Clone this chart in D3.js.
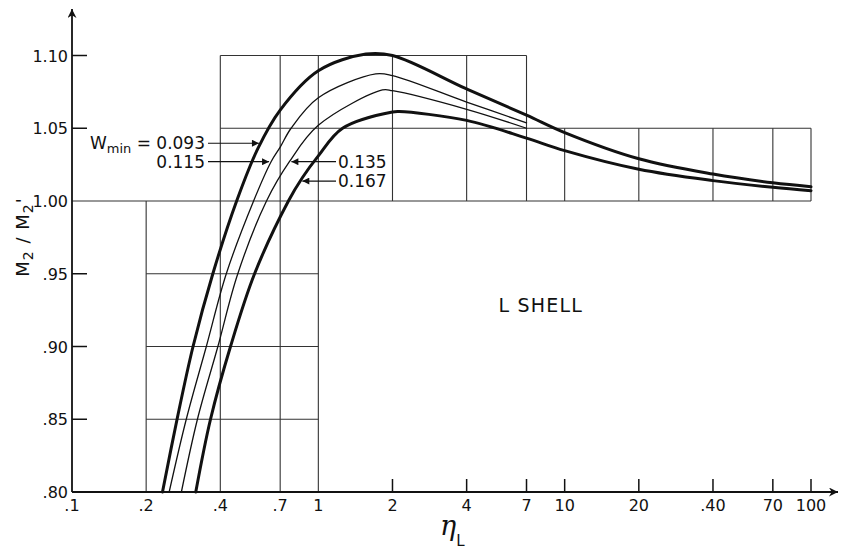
<!DOCTYPE html>
<html><head><meta charset="utf-8">
<script src="https://cdn.jsdelivr.net/npm/d3@7/dist/d3.min.js"></script>
<style>
body{margin:0;background:#fff}
text{font-family:"DejaVu Sans","Liberation Sans",sans-serif;fill:#111}
</style>
</head><body>
<svg id="chart" width="844" height="550"></svg>
<script>
// ---------- data ----------
const xTickValues = [0.1, 0.2, 0.4, 0.7, 1, 2, 4, 7, 10, 20, 40, 70, 100];
const xTickLabels = [".1", ".2", ".4", ".7", "1", "2", "4", "7", "10", "20", ".40", "70", "100"];
const yTickValues = [0.80, 0.85, 0.90, 0.95, 1.00, 1.05, 1.10];
const yTickLabels = [".80", ".85", ".90", ".95", "1.00", "1.05", "1.10"];

const seriesNames = ["0.093", "0.115", "0.135", "0.167"];
const eta093 = [0.233, 0.267, 0.310, 0.373, 0.466, 0.568, 0.7, 1, 1.56, 2, 4, 7, 10, 20, 40, 70, 100];
const m093   = [0.80, 0.85, 0.90, 0.95, 1.00, 1.036, 1.0625, 1.0895, 1.101, 1.100, 1.077, 1.059, 1.047, 1.029, 1.0185, 1.0125, 1.0098];
const eta115 = [0.248, 0.291, 0.351, 0.423, 0.546, 0.643, 0.7, 0.775, 1, 1.71, 2, 4, 7];
const m115   = [0.80, 0.85, 0.90, 0.95, 1.00, 1.027, 1.037, 1.05, 1.071, 1.0874, 1.0862, 1.068, 1.0537];
const eta135 = [0.278, 0.323, 0.391, 0.471, 0.616, 0.763, 1, 1.82, 2, 4, 7];
const m135   = [0.80, 0.85, 0.90, 0.95, 1.00, 1.027, 1.052, 1.0763, 1.0758, 1.063, 1.050];
const eta167 = [0.318, 0.365, 0.440, 0.551, 0.756, 0.861, 1, 1.254, 2, 2.13, 4, 7, 10, 20, 40, 70, 100];
const m167   = [0.80, 0.85, 0.90, 0.95, 1.00, 1.016, 1.031, 1.05, 1.0612, 1.0615, 1.0554, 1.0432, 1.0346, 1.0218, 1.014, 1.0094, 1.0071];

// grid segments of the graph paper (data coordinates)
const vGridEta = [0.2, 0.4, 0.7, 1, 2, 4, 7, 10, 20, 40, 70, 100];
const vGridLo  = [0.80, 0.80, 0.80, 0.80, 1.00, 1.00, 1.00, 1.00, 1.00, 1.00, 1.00, 1.00];
const vGridHi  = [1.00, 1.10, 1.10, 1.10, 1.10, 1.10, 1.10, 1.05, 1.05, 1.05, 1.05, 1.05];
const hGridM   = [0.85, 0.90, 0.95, 1.00, 1.05, 1.10];
const hGridLo  = [0.2, 0.2, 0.2, 0.1, 0.4, 0.4];
const hGridHi  = [1, 1, 1, 100, 100, 7];

// annotation arrow levels (M2/M2' value where each arrow points)
const annLevels = [1.0397, 1.027, 1.027, 1.0137];
const annSides  = ["left", "left", "right", "right"];

// ---------- drawing ----------
const svg = d3.select("#chart");
const x = d3.scaleLog().domain([0.1, 100]).range([72, 811]);
const y = d3.scaleLinear().domain([0.80, 1.10]).range([492, 55.5]);

const defs = svg.append("defs");
defs.append("marker").attr("id", "ah").attr("viewBox", "0 0 10 10")
  .attr("refX", 10).attr("refY", 5).attr("markerWidth", 9).attr("markerHeight", 7)
  .attr("markerUnits", "userSpaceOnUse").attr("orient", "auto")
  .append("path").attr("d", "M0,0 L10,5 L0,10 Z").attr("fill", "#111");
defs.append("marker").attr("id", "axah").attr("viewBox", "0 0 10 10")
  .attr("refX", 10).attr("refY", 5).attr("markerWidth", 14).attr("markerHeight", 9)
  .attr("markerUnits", "userSpaceOnUse").attr("orient", "auto")
  .append("path").attr("d", "M0,0 L10,5 L0,10 L3,5 Z").attr("fill", "#111");

// grid
const grid = svg.append("g").attr("stroke", "#333").attr("stroke-width", 1.1);
vGridEta.forEach((e, i) => {
  grid.append("line").attr("x1", x(e)).attr("x2", x(e)).attr("y1", y(vGridLo[i])).attr("y2", y(vGridHi[i]));
});
hGridM.forEach((m, i) => {
  grid.append("line").attr("x1", x(hGridLo[i])).attr("x2", x(hGridHi[i])).attr("y1", y(m)).attr("y2", y(m));
});

// axes
const ax = svg.append("g").attr("stroke", "#111").attr("stroke-width", 1.8).attr("fill", "none");
ax.append("line").attr("x1", x(0.1)).attr("x2", 838).attr("y1", y(0.80)).attr("y2", y(0.80)).attr("marker-end", "url(#axah)");
ax.append("line").attr("x1", x(0.1)).attr("x2", x(0.1)).attr("y1", y(0.80)).attr("y2", 9).attr("marker-end", "url(#axah)");

// y ticks
yTickValues.forEach((v, i) => {
  if (v !== 0.80 && v !== 1.00)
    svg.append("line").attr("x1", x(0.1)).attr("x2", x(0.1) + 15).attr("y1", y(v)).attr("y2", y(v))
      .attr("stroke", "#111").attr("stroke-width", 1.5);
  svg.append("text").attr("x", 68).attr("y", y(v) + 6).attr("text-anchor", "end")
    .attr("font-size", 16).text(yTickLabels[i]);
});
// x ticks
xTickValues.forEach((v, i) => {
  if (v > 1)
    svg.append("line").attr("x1", x(v)).attr("x2", x(v)).attr("y1", y(0.80)).attr("y2", y(0.80) - 13)
      .attr("stroke", "#111").attr("stroke-width", 1.5);
  svg.append("text").attr("x", x(v)).attr("y", 511).attr("text-anchor", "middle")
    .attr("font-size", 16).text(xTickLabels[i]);
});

// curves
const etas = [eta093, eta115, eta135, eta167];
const ms = [m093, m115, m135, m167];
const widths = [3, 1.3, 1.3, 3];
const line = d3.line().x(d => x(d[0])).y(d => y(d[1])).curve(d3.curveCatmullRom.alpha(0.5));
const seriesPts = etas.map((e, k) => e.map((v, j) => [v, ms[k][j]]));
seriesPts.forEach((pts, k) => {
  svg.append("path").attr("d", line(pts)).attr("fill", "none").attr("stroke", "#111")
    .attr("stroke-width", widths[k]).attr("stroke-linejoin", "round").attr("stroke-linecap", "round");
});

// annotations: arrow tip on rising branch of each curve
function crossEta(pts, m) {
  for (let j = 1; j < pts.length; j++) {
    if (pts[j][1] >= m && pts[j - 1][1] <= m) {
      const t = (m - pts[j - 1][1]) / (pts[j][1] - pts[j - 1][1]);
      return x(pts[j - 1][0]) + t * (x(pts[j][0]) - x(pts[j - 1][0]));
    }
  }
  return null;
}
seriesNames.forEach((name, k) => {
  const m = annLevels[k];
  const ty = y(m);
  const tx = crossEta(seriesPts[k], m);
  if (annSides[k] === "left") {
    svg.append("line").attr("x1", 208).attr("x2", tx - 2).attr("y1", ty).attr("y2", ty)
      .attr("stroke", "#111").attr("stroke-width", 1.2).attr("marker-end", "url(#ah)");
    const t = svg.append("text").attr("x", 205).attr("y", ty + 6).attr("text-anchor", "end").attr("font-size", 17);
    if (k === 0) {
      t.append("tspan").text("W");
      t.append("tspan").attr("font-size", 13).attr("dy", 4).text("min");
      t.append("tspan").attr("dy", -4).text(" = " + name);
    } else {
      t.text(name);
    }
  } else {
    svg.append("line").attr("x1", 336).attr("x2", tx + 2).attr("y1", ty).attr("y2", ty)
      .attr("stroke", "#111").attr("stroke-width", 1.2).attr("marker-end", "url(#ah)");
    svg.append("text").attr("x", 338).attr("y", ty + 6).attr("font-size", 17).text(name);
  }
});

// labels
svg.append("text").attr("x", 583).attr("y", 312).attr("text-anchor", "end")
  .attr("font-size", 19).attr("letter-spacing", 1.2).text("L  SHELL");

const yl = svg.append("text").attr("transform", "translate(29,237) rotate(-90)")
  .attr("text-anchor", "middle").attr("font-size", 18).attr("letter-spacing", 1);
yl.append("tspan").text("M");
yl.append("tspan").attr("font-size", 14).attr("dy", 4).text("2");
yl.append("tspan").attr("dy", -4).text(" / M");
yl.append("tspan").attr("font-size", 14).attr("dy", 4).text("2");
yl.append("tspan").attr("dy", -4).text("'");

const xl = svg.append("text").attr("x", 440).attr("y", 535);
xl.append("tspan").attr("font-size", 27).attr("font-style", "italic")
  .attr("font-family", "DejaVu Serif, serif").text("η");
xl.append("tspan").attr("font-size", 15).attr("dy", 11).text("L");
</script>
</body></html>
